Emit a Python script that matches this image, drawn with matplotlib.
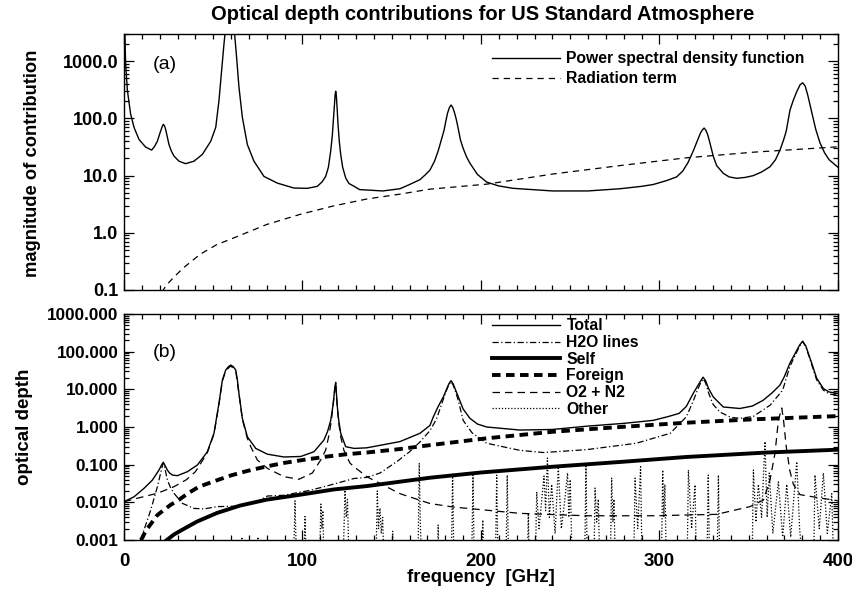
import numpy as np
import matplotlib
matplotlib.use("Agg")
import matplotlib.pyplot as plt
from matplotlib.ticker import FixedLocator, FormatStrFormatter, LogLocator, NullFormatter, MultipleLocator

plt.rcParams['font.family'] = ['Liberation Sans', 'DejaVu Sans']
plt.rcParams['font.weight'] = 'bold'

# ---------------- Panel (a) data ----------------
psd_freq = [0, 0.5, 0.9, 1.9, 3.7, 5.6, 8.4, 12.1, 15.5, 17, 18.7, 20.5, 21.4, 22, 22.7, 23.3,
            24.2, 25.2, 26.5, 28, 30.8, 34.5, 39.2, 43.9, 48.6, 51.4, 53.2, 54.5, 56, 57, 58, 60,
            61.6, 62.9, 64.4, 66.3, 69.1, 72.8, 78.4, 85.9, 95.2, 102.7, 108.3, 111, 113, 114.5,
            115.8, 116.7, 117.3, 117.8, 118.1, 118.3, 118.6, 118.9, 119.1, 119.4, 119.9, 120.6,
            121.4, 122.5, 124.2, 126, 128.9, 132, 145, 154.6, 160, 165.8, 169, 171.4, 174, 176,
            178, 179.3, 180.3, 181.3, 182.3, 183.2, 184.2, 185.2, 186.2, 187.3, 188.5, 190, 192,
            193.8, 198, 203.2, 210, 218, 240, 260, 277.9, 290, 296.5, 304, 309.6, 313, 316,
            318.9, 320, 321, 322, 323, 324, 325, 326, 327, 328, 329, 330.1, 332, 335.7, 339,
            343.2, 348, 352.5, 357, 361.9, 365, 367.5, 369.5, 371, 373.1, 375, 377, 378.8,
            380.2, 381.6, 383, 385.3, 387.5, 389.9, 392.5, 395, 400]
psd_val = [5000, 3000, 910, 310, 120, 70, 43, 31.6, 28, 32, 40, 60, 72, 79, 74, 65,
           48, 35, 27, 22, 17.9, 16.2, 17.9, 23.5, 40, 70, 205, 600, 2000, 4000, 5000, 5000,
           4000, 1380, 355, 105, 35, 17.9, 9.7, 7.4, 6.07, 6.0, 6.5, 7.8, 9.7, 14,
           27, 50, 91, 150, 215, 263, 300, 263, 215, 150, 79, 40,
           23.5, 14, 9.1, 7.3, 6.5, 5.7, 5.4, 5.9, 7, 8.5, 10.5, 12.5, 18, 27,
           45, 62, 90, 125, 155, 172, 155, 125, 95, 65, 42, 30, 21,
           16.5, 10.5, 7.7, 6.6, 6.0, 5.4, 5.4, 5.9, 6.5, 7.0, 8.2, 9.5, 12, 17,
           27, 33, 40, 47, 56, 63, 68, 62, 52, 40, 30, 22, 15, 11, 9.5,
           9.0, 9.3, 10, 11.5, 14.3, 19, 28, 42, 60, 140, 210, 300, 390,
           420, 370, 260, 127, 65, 37.5, 25, 19, 14]

rad_freq = [21.5, 22, 23.6, 27.3, 33, 42.6, 51.9, 61.3, 80, 98.6, 117.3, 136, 154.6, 171.4,
            203.2, 240.5, 277.9, 315, 352.5, 397, 400]
rad_val = [0.09, 0.1, 0.12, 0.16, 0.24, 0.42, 0.62, 0.81, 1.4, 2.1, 2.95, 3.9, 4.75, 5.8,
           7.1, 10.7, 15, 20.5, 25.7, 31.5, 32]

# ---------------- Panel (b) data ----------------
tot_freq = [0, 5.6, 11.2, 15.9, 19.6, 21, 22, 23, 24.3, 25.5, 27.1, 29.9, 35.5, 41.1, 46.7,
            50.4, 53.2, 55.1, 57, 58.5, 59.8, 61.2, 62.6, 63.5, 64.4, 66.3, 69.1, 73.8, 80.3,
            89.6, 99, 106.4, 112, 114, 115.8, 117, 117.6, 118.1, 118.6, 119, 119.5, 120.3,
            121.4, 124.2, 128.9, 136, 154.6, 165.8, 171.4, 173.3, 176, 178.9, 180.5, 182, 183.2,
            184.4, 186, 187.3, 190, 193.8, 198, 203.2, 221.8, 240, 259.1, 280, 296.5, 305, 311,
            315, 318.9, 321, 322.8, 324.4, 325.8, 327.5, 330.1, 335.7, 345, 352, 358, 363,
            367.5, 370, 373, 376, 378.5, 380.2, 382, 385.3, 388, 391.8, 395, 400]
tot_val = [0.0104, 0.014, 0.0235, 0.039, 0.072, 0.097, 0.116, 0.095, 0.072, 0.06, 0.053, 0.051,
           0.065, 0.098, 0.22, 0.68, 4.25, 17.6, 32.6, 40, 44, 40, 32.6, 18, 7.8, 1.7, 0.55,
           0.27, 0.19, 0.16, 0.165, 0.22, 0.45, 0.75, 1.5, 3.5, 6.3, 11, 15.3, 8, 3.5, 1.5,
           0.68, 0.3, 0.27, 0.28, 0.41, 0.68, 1.1, 1.86, 3.5, 6.3, 9.5, 14, 17,
           14, 9, 6.3, 3.0, 1.7, 1.2, 1.0, 0.83, 0.86, 1.05, 1.25, 1.5, 1.9, 2.3,
           3.5, 7.8, 11.5, 16, 21, 17, 10.5, 6.3, 3.4, 3.1, 3.6, 5.1, 8,
           13, 22, 49, 90, 150, 190, 140, 49, 20, 10.5, 8.5, 7.8]

h2o_freq = [9.3, 13.1, 15, 18.7, 20.5, 21.3, 22, 22.8, 24.3, 26, 28, 32.7, 39.2, 44.8, 52.3,
            63.5, 74.7, 80.3, 89.6, 104.6, 115.8, 128.9, 136, 143.4, 152.8, 160, 165.8, 171.4,
            175, 178.9, 180.5, 182, 183.2, 184.4, 186, 187.3, 190, 195, 203.2, 221.8, 235, 259,
            287, 306, 315, 319, 321, 322.8, 324.4, 325.8, 327.5, 330, 333.8, 340, 345, 352.5,
            362, 369, 373, 376, 378.5, 380.2, 382, 385.3, 388, 391.8, 395, 400]
h2o_val = [0.001, 0.0034, 0.0063, 0.026, 0.059, 0.085, 0.11, 0.085, 0.039, 0.025, 0.0174,
           0.0094, 0.0069, 0.0067, 0.0077, 0.0079, 0.0104, 0.0147, 0.0154, 0.021, 0.029, 0.043,
           0.046, 0.06, 0.12, 0.22, 0.4, 0.8, 1.6, 5.5, 9, 13.5, 16, 13, 8, 5.0, 1.5, 0.7, 0.37,
           0.24, 0.21, 0.25, 0.37, 0.68, 1.86, 5, 9, 14, 19, 15, 8, 4, 2.5, 1.8, 1.7, 1.9,
           3.8, 9.5, 40, 80, 140, 185, 135, 45, 18, 9.5, 7.5, 7.0]

self_freq = [24, 28, 32, 41, 52, 65, 80, 99, 117.6, 136, 171.4, 200, 240, 280, 315, 360, 400]
self_val = [0.001, 0.0014, 0.0018, 0.0031, 0.0052, 0.0082, 0.0118, 0.016, 0.022, 0.027, 0.045,
            0.062, 0.088, 0.12, 0.16, 0.21, 0.25]

for_freq = [9.5, 10.5, 12, 18.7, 26, 30, 36, 42, 51, 60, 69, 80, 90, 101, 114, 125, 136,
            154.6, 171.4, 203, 240.5, 277.9, 315, 352.5, 400]
for_val = [0.001, 0.0012, 0.0017, 0.0046, 0.0085, 0.011, 0.0175, 0.026, 0.037, 0.052, 0.068,
           0.09, 0.112, 0.135, 0.165, 0.19, 0.21, 0.26, 0.33, 0.5, 0.75, 1.0, 1.3, 1.6, 1.95]

o2n2_freq = [0, 9.3, 18.7, 28, 35, 40, 43, 46.7, 50.4, 53.2, 55.1, 57, 59.8, 62.6, 64.4, 66.3,
             69.1, 71, 74.7, 80.3, 89.6, 98, 105.5, 110.2, 113, 114.8, 116, 117, 117.6, 118.1,
             118.6, 119, 119.5, 120.3, 121.4, 123.2, 126.6, 128.9, 136, 154.6, 171.4, 184.5,
             221.8, 259, 296.5, 332, 350.7, 358.2, 361.9, 364.7, 366.6, 368.5, 369.5, 371, 373,
             375, 378.7, 388, 400]
o2n2_val = [0.0104, 0.0135, 0.0174, 0.026, 0.04, 0.065, 0.108, 0.21, 0.65, 4.0, 16.5, 31, 42,
            31, 7.5, 1.6, 0.5, 0.3, 0.133, 0.08, 0.048, 0.041, 0.06, 0.133, 0.245, 0.6, 1.3,
            3.2, 6, 10.5, 14.5, 7.5, 3.2, 1.3, 0.55, 0.24, 0.11, 0.088, 0.048, 0.017, 0.0093,
            0.0075, 0.0051, 0.0044, 0.0044, 0.0048, 0.0077, 0.0115, 0.039, 0.2, 1.5, 3.2, 1.5,
            0.3, 0.07, 0.03, 0.016, 0.0135, 0.011]

other_freq = [0, 65.5, 66, 66.5, 74.5, 75, 75.5, 95, 95.8, 96.6, 100.8, 101.4, 102,
              109.6, 110.3, 110.9, 111.4, 112, 122.8, 123.8, 124.5, 125.2, 126,
              141.2, 141.9, 142.6, 143.4, 144.1, 144.9, 145.6, 150, 150.5, 151,
              164.7, 165.4, 166, 166.6, 175.5, 176, 176.5, 183.4, 184.1, 184.8,
              194.8, 195.5, 196.2, 200.5, 201, 201.5, 208.1, 208.8, 209.5, 214, 214.7, 215.4,
              226, 226.5, 227, 230.5, 231.2, 232.5, 235.3, 236.2, 237.2, 238.3, 239.6, 241.5,
              243.3, 245, 246.8, 248.5, 249.2, 250, 251, 258.1, 258.8, 259.5,
              263.3, 263.9, 264.8, 265.7, 266.5, 272.5, 273.2, 273.9, 274.5, 275.2,
              285.6, 286.3, 287.8, 289.4, 290.2, 301.1, 301.8, 302.4, 303, 303.8,
              315.5, 316.2, 318, 319.9, 320.6, 326.6, 327.3, 328, 332.3, 333, 333.7,
              351.9, 352.6, 354, 355.4, 357.2, 359.1, 360.3, 361.5, 363.5, 366.6, 369, 371.3,
              373.5, 376.9, 378.5, 380, 386.4, 387.1, 389.5, 391.8, 394, 396.5, 397.5, 400]
other_val = [3e-4, 3e-4, 0.0012, 3e-4, 3e-4, 0.0012, 3e-4, 3e-4, 0.011, 3e-4, 3e-4, 0.0042, 3e-4,
             3e-4, 0.009, 0.002, 0.006, 3e-4, 3e-4, 0.021, 0.004, 0.012, 3e-4,
             3e-4, 0.02, 0.002, 0.007, 0.0015, 0.004, 3e-4, 3e-4, 0.0017, 3e-4,
             3e-4, 0.108, 0.003, 3e-4, 3e-4, 0.0025, 3e-4, 3e-4, 0.06, 3e-4,
             3e-4, 0.053, 3e-4, 3e-4, 0.0034, 3e-4, 3e-4, 0.053, 3e-4, 3e-4, 0.053, 3e-4,
             3e-4, 0.0051, 3e-4, 3e-4, 0.019, 0.002, 0.05, 0.006, 0.15, 0.004, 0.03, 0.0015,
             0.088, 0.002, 0.01, 0.06, 0.004, 0.04, 3e-4, 3e-4, 0.1, 3e-4,
             3e-4, 0.024, 0.003, 0.012, 3e-4, 3e-4, 0.044, 0.003, 0.012, 3e-4,
             3e-4, 0.044, 0.002, 0.088, 3e-4, 3e-4, 0.072, 0.004, 0.03, 3e-4,
             3e-4, 0.072, 0.002, 0.029, 3e-4, 3e-4, 0.053, 3e-4, 3e-4, 0.053, 3e-4,
             3e-4, 0.072, 0.003, 0.03, 0.004, 0.41, 0.004, 0.06, 0.0015, 0.035, 0.0012, 0.03,
             0.0012, 0.12, 0.002, 3e-4, 3e-4, 0.053, 0.002, 0.06, 0.0015, 0.017, 3e-4, 3e-4]

title_text = "Optical depth contributions for US Standard Atmosphere"
top_ticks = [0.1, 1.0, 10.0, 100.0, 1000.0]
bot_ticks = [0.001, 0.01, 0.1, 1.0, 10.0, 100.0, 1000.0]
x_ticks = [0, 100, 200, 300, 400]

W, H = 853, 590
fig = plt.figure(figsize=(W / 100, H / 100), dpi=100)
ax1 = fig.add_axes([124 / W, 1 - 290 / H, (838 - 124) / W, (290 - 34) / H])
ax2 = fig.add_axes([124 / W, 1 - 540 / H, (838 - 124) / W, (540 - 314) / H])

XFS = 13.5
LFS = 11.3

def style(ax, ymin, ymax, yt, fmt, xlabels, yfs):
    ax.set_yscale('log')
    ax.set_xlim(0, 400)
    ax.set_ylim(ymin, ymax)
    ax.xaxis.set_major_locator(FixedLocator(x_ticks))
    ax.xaxis.set_minor_locator(MultipleLocator(10))
    ax.yaxis.set_major_locator(FixedLocator(yt))
    ax.yaxis.set_minor_locator(LogLocator(base=10, subs=np.arange(2, 10)))
    ax.yaxis.set_minor_formatter(NullFormatter())
    ax.yaxis.set_major_formatter(FormatStrFormatter(fmt))
    ax.tick_params(which='both', direction='in', top=True, right=True, width=0.9)
    ax.tick_params(which='major', length=7)
    ax.tick_params(which='minor', length=3.5)
    ax.tick_params(axis='y', labelsize=yfs, pad=4)
    ax.tick_params(axis='x', labelsize=XFS, pad=9)
    if not xlabels:
        ax.tick_params(axis='x', labelbottom=False)
    for s in ax.spines.values():
        s.set_linewidth(1.0)
    for lab in ax.get_xticklabels() + ax.get_yticklabels():
        lab.set_fontweight('bold')

# Panel (a)
ax1.plot(psd_freq, psd_val, color='black', lw=1.0, label='Power spectral density function')
ax1.plot(rad_freq, rad_val, color='black', lw=0.9, dashes=(5, 4), label='Radiation term')
style(ax1, 0.1, 3000, top_ticks, '%.1f', False, 13.0)
ax1.text(0.04, 0.88, '(a)', transform=ax1.transAxes, fontsize=14, fontweight='normal',
         va='center')
ax1.legend(loc='upper left', bbox_to_anchor=(491.7 / W, 1 - 51 / H),
           bbox_transform=fig.transFigure, frameon=False, borderpad=0, borderaxespad=0,
           handlelength=4.33, handletextpad=0.43, labelspacing=0.33,
           prop={'weight': 'bold', 'size': LFS})

# Panel (b)
ax2.plot(tot_freq, tot_val, color='black', lw=1.0, label='Total')
ax2.plot(h2o_freq, h2o_val, color='black', lw=0.9, dashes=(5, 2, 1, 2), label='H2O lines')
ax2.plot(self_freq, self_val, color='black', lw=2.8, label='Self')
ax2.plot(for_freq, for_val, color='black', lw=2.8, dashes=(2.2, 1.4), label='Foreign')
ax2.plot(o2n2_freq, o2n2_val, color='black', lw=0.9, dashes=(6, 4), label='O2 + N2')
ax2.plot(other_freq, other_val, color='black', lw=0.9, dashes=(1, 1.5), label='Other')
style(ax2, 0.001, 1000, bot_ticks, '%.3f', True, 12.3)
ax2.text(0.04, 0.83, '(b)', transform=ax2.transAxes, fontsize=14, fontweight='normal',
         va='center')
ax2.legend(loc='upper left', bbox_to_anchor=(491.7 / W, 1 - 318.5 / H),
           bbox_transform=fig.transFigure, frameon=False, borderpad=0, borderaxespad=0,
           handlelength=4.33, handletextpad=0.43, labelspacing=0.105,
           prop={'weight': 'bold', 'size': LFS})

fig.text(33 / W, 1 - 163 / H, 'magnitude of contribution', rotation=90, ha='center',
         va='center', fontsize=13.2, fontweight='bold')
fig.text(25 / W, 1 - 427 / H, 'optical depth', rotation=90, ha='center', va='center',
         fontsize=13.5, fontweight='bold')
fig.text(481 / W, 1 - 577 / H, 'frequency  [GHz]', ha='center', va='center', fontsize=13.3,
         fontweight='bold')
fig.text(483 / W, 1 - 14 / H, title_text, ha='center', va='center', fontsize=14.5,
         fontweight='bold')

fig.savefig('out.png', dpi=100)
